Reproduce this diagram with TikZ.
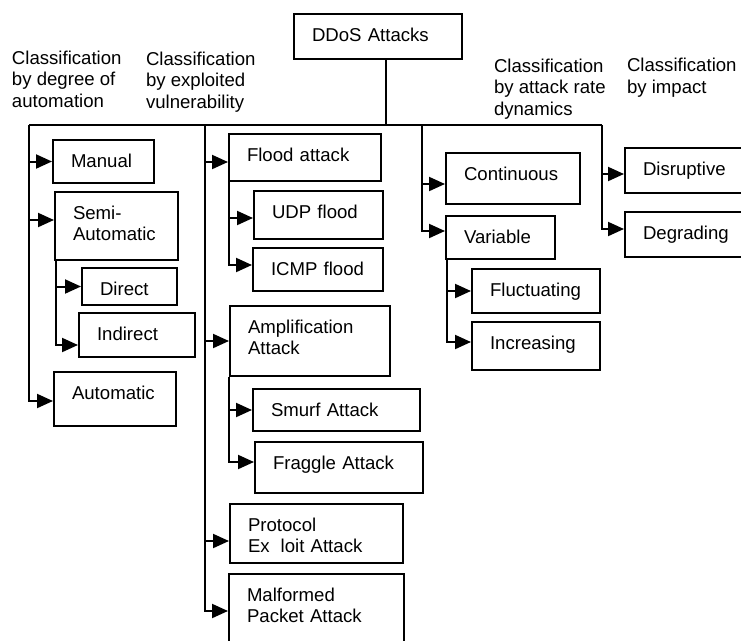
\documentclass[tikz,border=0pt]{standalone}
\usepackage{fontspec}
\setmainfont{Liberation Sans}
\usetikzlibrary{arrows.meta}

\begin{document}
\begin{tikzpicture}[x=1pt, y=-1pt,
				>={Triangle[length=16pt, width=14pt]},
				line width=2pt,
				font=\fontsize{18.6}{21.3}\selectfont,
				box/.style n args={2}{draw, anchor=north west, align=left, inner xsep=18pt, inner ysep=0pt, text height=27pt, text width=#1, text depth=#2},
				head/.style={anchor=base west, align=left, inner sep=0pt}]
				\useasboundingbox (0,0) rectangle (741,640);
				\node at (293,13) (ddos) [box={132pt}{18pt}] {DDoS~Attacks};
				\node at (11,107) (hauto) [head] {Classification\\by degree of\\automation};
				\node at (145,108) (hvuln) [head] {Classification\\by exploited\\vulnerability};
				\node at (493,115) (hrate) [head] {Classification\\by attack rate\\dynamics};
				\node at (626,93) (himpact) [head] {Classification\\by impact};
				\node at (52,139) (manual) [box={65pt}{16pt}] {Manual};
				\node at (54,191) (semi) [box={87pt}{41pt}] {Semi-\\Automatic};
				\node at (81,267) (direct) [box={59pt}{10pt}] {Direct};
				\node at (78,312) (indirect) [box={80pt}{17pt}] {Indirect};
				\node at (53,371) (automatic) [box={86pt}{27pt}] {Automatic};
				\node at (228,133) (flood) [box={116pt}{20pt}] {Flood~attack};
				\node at (253,190) (udp) [box={93pt}{21pt}] {UDP~flood};
				\node at (252,247) (icmp) [box={94pt}{16pt}] {ICMP~flood};
				\node at (229,305) (amp) [box={124pt}{43pt}] {Amplification\\Attack};
				\node at (252,388) (smurf) [box={131pt}{15pt}] {Smurf~Attack};
				\node at (254,441) (fraggle) [box={132pt}{24pt}] {Fraggle~Attack};
				\node at (229,503) (protocol) [box={137pt}{32pt}] {Protocol\\Ex\hspace{11pt}loit~Attack};
				\node at (228,573) (malformed) [box={139pt}{53pt}] {Malformed\\Packet~Attack};
				\node at (445,152) (continuous) [box={98pt}{24pt}] {Continuous};
				\node at (445,215) (variable) [box={73pt}{16pt}] {Variable};
				\node at (471,268) (fluctuating) [box={92pt}{17pt}] {Fluctuating};
				\node at (471,321) (increasing) [box={92pt}{21pt}] {Increasing};
				\node at (624,147) (disruptive) [box={94pt}{18pt}] {Disruptive};
				\node at (624,211) (degrading) [box={94pt}{18pt}] {Degrading};
				\coordinate (hub) at (386,125);
				\coordinate (byauto) at (29,125);
				\coordinate (byvuln) at (205,125);
				\coordinate (byrate) at (422,125);
				\coordinate (byimpact) at (602,125);
				\draw (ddos.south -| hub) -- (hub);
				\draw (byauto) -- (byimpact);
				\draw[->] (byauto) |- ([yshift=-2pt]automatic.west);
				\draw[->] (manual.west -| byauto) -- (manual.west);
				\draw[->] ([yshift=6pt]semi.west -| byauto) -- ([yshift=6pt]semi.west);
				\draw[->] ([xshift=2pt]semi.south west) |- ([yshift=-10pt]indirect.west);
				\draw[->] ([xshift=2pt]semi.south west |- direct.west) -- (direct.west);
				\draw[->] (byvuln) |- ([yshift=3pt]malformed.west);
				\draw[->] ([yshift=-4.5pt]flood.west -| byvuln) -- ([yshift=-4.5pt]flood.west);
				\draw[->] (amp.west -| byvuln) -- (amp.west);
				\draw[->] ([yshift=-7.5pt]protocol.west -| byvuln) -- ([yshift=-7.5pt]protocol.west);
				\draw[->] ([xshift=1pt]flood.south west) |- ([yshift=4.5pt]icmp.west);
				\draw[->] ([xshift=1pt, yshift=-3pt]flood.south west |- udp.west) -- ([yshift=-3pt]udp.west);
				\draw[->] (amp.south west) |- ([yshift=5.5pt]fraggle.west);
				\draw[->] (amp.south west |- smurf.west) -- (smurf.west);
				\draw[->] (byrate) |- ([yshift=6.5pt]variable.west);
				\draw[->] ([yshift=-5.5pt]continuous.west -| byrate) -- ([yshift=-5.5pt]continuous.west);
				\draw[->] ([xshift=2pt]variable.south west) |- ([yshift=4pt]increasing.west);
				\draw[->] ([xshift=2pt]variable.south west |- fluctuating.west) -- (fluctuating.west);
				\draw[->] (byimpact) |- ([yshift=5.5pt]degrading.west);
				\draw[->] ([yshift=-3.5pt]disruptive.west -| byimpact) -- ([yshift=-3.5pt]disruptive.west);
			\end{tikzpicture}
\end{document}
